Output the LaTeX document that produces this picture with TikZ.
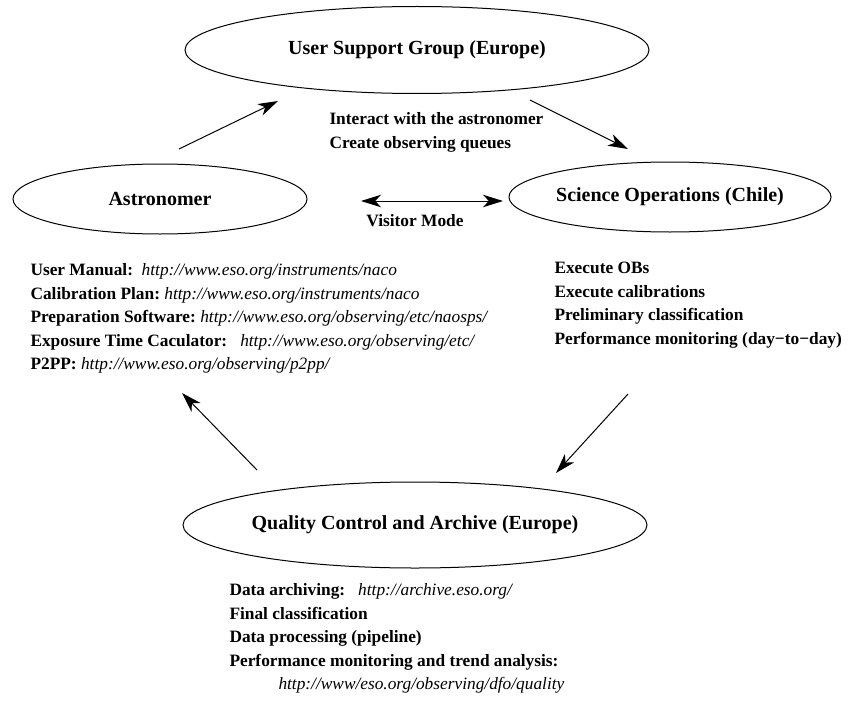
\documentclass[tikz,border=0pt]{standalone}
\usepackage{fontspec}
\setmainfont{Liberation Serif}
\usepackage{tikz}
\usetikzlibrary{arrows.meta,positioning,shapes.geometric}

\tikzset{
  group/.style={draw,ellipse,line width=0.6pt,inner sep=0pt,
    font=\fontsize{12}{14}\selectfont\bfseries},
  duties/.style={anchor=north west,align=left,inner sep=0pt,
    font=\fontsize{10.4}{14.1}\selectfont\bfseries},
}
\newcommand{\site}[1]{\textit{\mdseries #1}}

\begin{document}
\begin{tikzpicture}[x=0.6pt,y=-0.6pt,>={Stealth[length=12pt,width=7.5pt,inset=3.5pt]},line width=0.6pt]
  \useasboundingbox (0,0) rectangle (849,702);
  % the four groups
  \node[group,minimum width=278.4pt,minimum height=52.2pt] (usg) at (417,50) {User Support Group (Europe)};
  \node[group,minimum width=176.4pt,minimum height=42pt] (astro) at (160,199) {Astronomer};
  \node[group,minimum width=177.6pt,minimum height=42pt] (sciops) at (670,197) {Science Operations (Chile)};
  \node[group,minimum width=278.4pt,minimum height=51.6pt] (qc) at (415,525) {Quality Control and Archive (Europe)};
  % free arrow ends
  \coordinate (a1) at (179,149);  \coordinate (b1) at (278,101);
  \coordinate (a2) at (530,100);  \coordinate (b2) at (628,149);
  \coordinate (a3) at (628,394);  \coordinate (b3) at (556,473);
  \coordinate (a4) at (257,470);  \coordinate (b4) at (182,393);
  \coordinate (v1) at (361,201);  \coordinate (v2) at (503,201);
  \draw[->] (a1) -- (b1);
  \draw[->] (a2) -- (b2);
  \draw[->] (a3) -- (b3);
  \draw[->] (a4) -- (b4);
  \draw[<->] (v1) -- (v2);
  % what each group does
  \node[duties] (usgdo) at (329,112) {Interact with the astronomer\\Create observing queues};
  \node[duties,anchor=center] (visit) at (415,221) {Visitor Mode};
  \node[duties] (astrodo) at (30,263) {User Manual:~~\site{http://www.eso.org/instruments/naco}\\
    Calibration Plan:~\site{http://www.eso.org/instruments/naco}\\
    Preparation Software:~\site{http://www.eso.org/observing/etc/naosps/}\\
    Exposure Time Caculator:~~~\site{http://www.eso.org/observing/etc/}\\
    P2PP:~\site{http://www.eso.org/observing/p2pp/}};
  \node[duties] (sciopsdo) at (554,262) {Execute OBs\\Execute calibrations\\
    Preliminary classification\\Performance monitoring (day−to−day)};
  \node[duties] (qcdo) at (229,583) {Data archiving:~~~\site{http://archive.eso.org/}\\
    Final classification\\Data processing (pipeline)\\
    Performance monitoring and trend analysis:\\
    \hspace*{29.4pt}\site{http://www/eso.org/observing/dfo/quality}};
\end{tikzpicture}
\end{document}
